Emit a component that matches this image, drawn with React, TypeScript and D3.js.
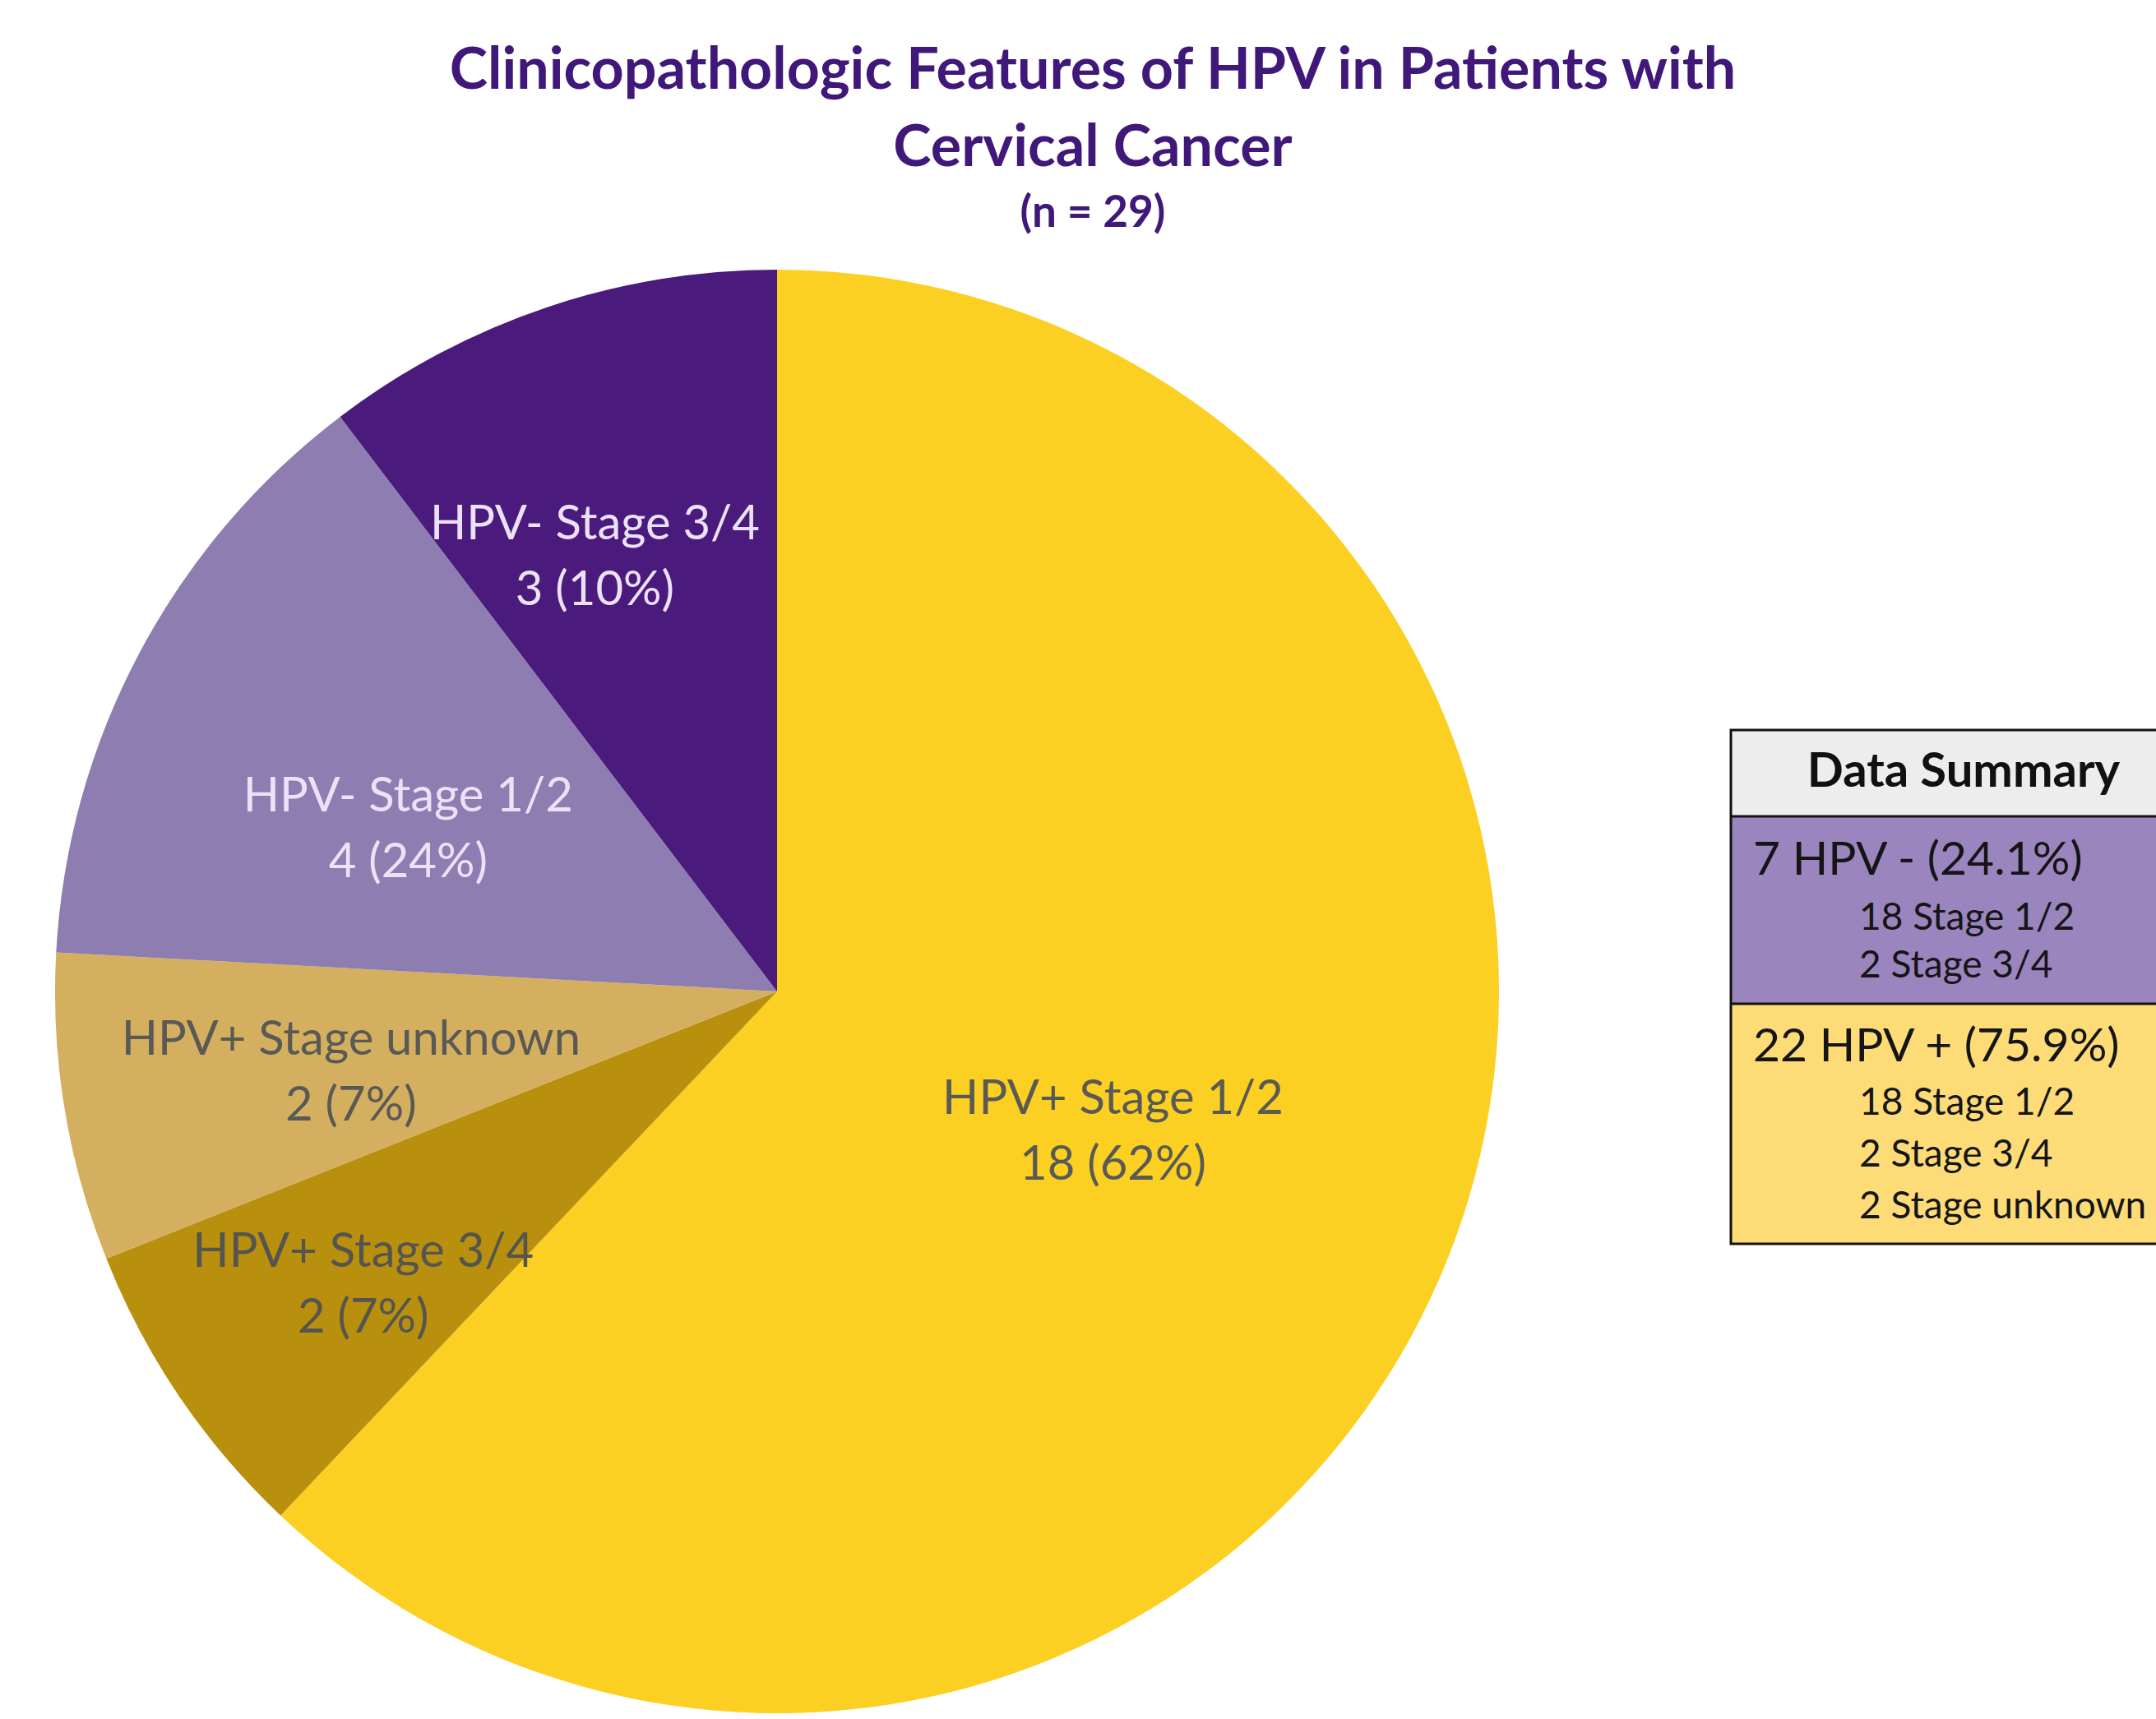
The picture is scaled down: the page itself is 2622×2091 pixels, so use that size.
import * as d3 from "d3";

// pie slices, clockwise from 12 o'clock
const sliceNames = [
  "HPV+ Stage 1/2",
  "HPV+ Stage 3/4",
  "HPV+ Stage unknown",
  "HPV- Stage 1/2",
  "HPV- Stage 3/4",
];
const sliceCounts = [18, 2, 2, 4, 3];
const sliceValueText = ["18 (62%)", "2 (7%)", "2 (7%)", "4 (24%)", "3 (10%)"];

// summary box rows
const summaryHeader = "Data Summary";
const negativeRows = ["7 HPV - (24.1%)", "18 Stage 1/2", "2 Stage 3/4"];
const positiveRows = ["22 HPV + (75.9%)", "18 Stage 1/2", "2 Stage 3/4", "2 Stage unknown"];

const titleLines = ["Clinicopathologic Features of HPV in Patients with", "Cervical Cancer"];
const subtitle = "(n = 29)";

const sliceColors = ["#FCD023", "#B98F0E", "#D5AF60", "#8E7DB1", "#4A1A7C"];
const labelColors = ["#5a5a55", "#55554f", "#5a5a55", "#ECE2F8", "#ECE2F8"];
// label placement: share of the radius, and a nudge off the mid-angle (degrees)
const labelRadiusShare = [0.503, 0.7, 0.6, 0.56, 0.656];
const labelAngleNudge = [0.6, -0.9, -1.1, -3.8, -4.0];

const W = 2622;
const H = 2091;
const FONT = "Lato, 'Open Sans', sans-serif";

export default function App() {
  const cx = 945;
  const cy = 1206;
  const radius = 878;

  const pie = d3
    .pie<number>()
    .value((d) => d)
    .sort(null)
    .startAngle(0)
    .endAngle(2 * Math.PI);
  const arcs = pie(sliceCounts);
  const arc = d3.arc<d3.PieArcDatum<number>>().innerRadius(0).outerRadius(radius);

  // summary box layout
  const boxX = 2105;
  const boxTop = 888;
  const headerBottom = 993;
  const negBottom = 1221;
  const boxBottom = 1513;
  const boxRight = W + 10;

  return (
    <svg
      width={W}
      height={H}
      style={{ position: "absolute", left: 0, top: 0, background: "#fff" }}
      fontFamily={FONT}
    >
      {/* Title */}
      <g fill="#40187A" fontWeight={700} textAnchor="middle">
        <text x={1329} y={108} fontSize={70}>
          {titleLines[0]}
        </text>
        <text x={1329} y={202} fontSize={70}>
          {titleLines[1]}
        </text>
        <text x={1329} y={276} fontSize={53}>
          {subtitle}
        </text>
      </g>

      {/* Pie */}
      <g transform={`translate(${cx},${cy})`}>
        {arcs.map((a, i) => (
          <path key={i} d={arc(a) ?? ""} fill={sliceColors[i]} />
        ))}
        {arcs.map((a, i) => {
          const r = radius * labelRadiusShare[i];
          const ang = (a.startAngle + a.endAngle) / 2 + (labelAngleNudge[i] * Math.PI) / 180;
          const lx = r * Math.sin(ang);
          const ly = -r * Math.cos(ang) + 7;
          return (
            <g key={`l${i}`} fill={labelColors[i]} fontSize={58} textAnchor="middle">
              <text x={lx} y={ly - 40} dominantBaseline="middle">
                {sliceNames[i]}
              </text>
              <text x={lx} y={ly + 40} dominantBaseline="middle">
                {sliceValueText[i]}
              </text>
            </g>
          );
        })}
      </g>

      {/* Data summary box */}
      <g>
        <rect x={boxX} y={boxTop} width={boxRight - boxX} height={headerBottom - boxTop} fill="#EDEDED" />
        <rect x={boxX} y={headerBottom} width={boxRight - boxX} height={negBottom - headerBottom} fill="#9A85BE" />
        <rect x={boxX} y={negBottom} width={boxRight - boxX} height={boxBottom - negBottom} fill="#FDDC78" />
        <g fill="none" stroke="#111" strokeWidth={3}>
          <rect x={boxX} y={boxTop} width={boxRight - boxX} height={boxBottom - boxTop} />
          <line x1={boxX} x2={boxRight} y1={headerBottom} y2={headerBottom} />
          <line x1={boxX} x2={boxRight} y1={negBottom} y2={negBottom} />
        </g>
        <text x={2388} y={942} fontSize={58} fontWeight={700} textAnchor="middle" dominantBaseline="middle" fill="#111">
          {summaryHeader}
        </text>
        {negativeRows.map((t, i) => (
          <text
            key={`n${i}`}
            x={i === 0 ? 2132 : 2261}
            y={i === 0 ? 1050 : 1119 + (i - 1) * 58}
            fontSize={i === 0 ? 57 : 46}
            dominantBaseline="middle"
            fill="#151515"
          >
            {t}
          </text>
        ))}
        {positiveRows.map((t, i) => (
          <text
            key={`p${i}`}
            x={i === 0 ? 2132 : 2261}
            y={i === 0 ? 1277 : 1344 + (i - 1) * 63}
            fontSize={i === 0 ? 57 : 46}
            dominantBaseline="middle"
            fill="#151515"
          >
            {t}
          </text>
        ))}
      </g>
    </svg>
  );
}
